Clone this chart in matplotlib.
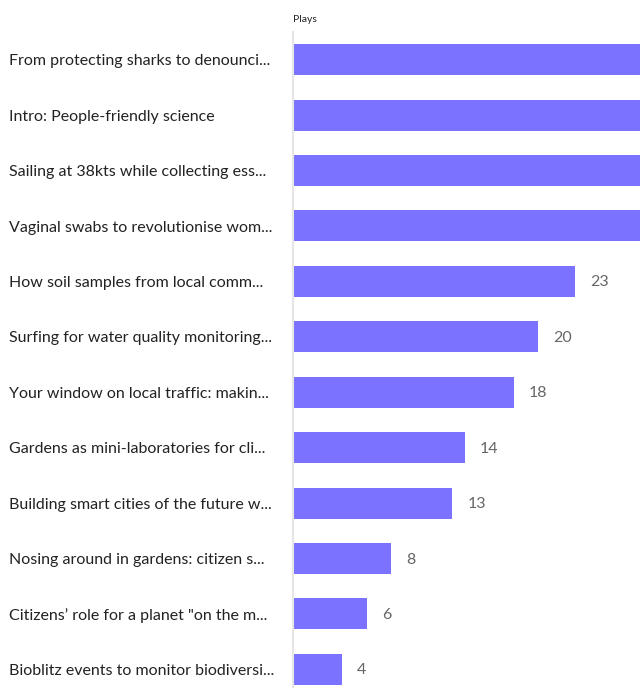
import matplotlib.pyplot as plt

labels = [
    "From protecting sharks to denounci...",
    "Intro: People-friendly science",
    "Sailing at 38kts while collecting ess...",
    "Vaginal swabs to revolutionise wom...",
    "How soil samples from local comm...",
    "Surfing for water quality monitoring...",
    "Your window on local traffic: makin...",
    "Gardens as mini-laboratories for cli...",
    "Building smart cities of the future w...",
    "Nosing around in gardens: citizen s...",
    "Citizens\u2019 role for a planet \"on the m...",
    "Bioblitz events to monitor biodiversi...",
]
# top four run past the edge of the chart, their values are not visible
plays = [36, 33, 31, 30, 23, 20, 18, 14, 13, 8, 6, 4]

plt.rcParams['font.family'] = ['Lato', 'DejaVu Sans']

fig = plt.figure(figsize=(6.4, 6.88), dpi=100)
ax = fig.add_axes([293 / 640, (688 - 697) / 688, 1 - 293 / 640, 665 / 688])

y = list(range(len(labels)))
ax.barh(y, plays, height=0.56, color="#7b72ff")
ax.set_ylim(len(labels) - 0.5, -0.5)
ax.set_xlim(0, 347 / 12.25)

for yi, v in zip(y, plays):
    ax.annotate(str(v), (v, yi + 0.02), xytext=(11, 0), textcoords="offset points",
                va="center", ha="left", fontsize=11.5, color="#666666")

for yi, lab in zip(y, labels):
    ax.text(-284 / 12.25, yi + 0.03, lab, va="center", ha="left", fontsize=11.55, color="#222222")

ax.set_xticks([])
ax.set_yticks([])
for s in ["top", "right", "bottom"]:
    ax.spines[s].set_visible(False)
ax.spines["left"].set_color("#e6e6e6")
ax.spines["left"].set_linewidth(1.5)

fig.text(293 / 640, 1 - 19 / 688, "Plays", fontsize=7.5, color="#222222", va="center", ha="left")

fig.savefig("out.png", dpi=100)
